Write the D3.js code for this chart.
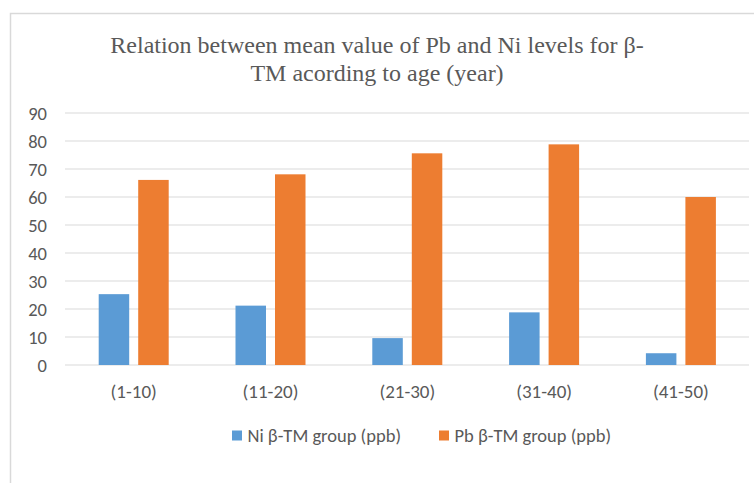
<!DOCTYPE html>
<html><head><meta charset="utf-8">
<script src="https://cdn.jsdelivr.net/npm/d3@7"></script>
<style>body{margin:0;background:#fff;}svg{display:block;}</style>
</head><body>
<script>
const categories = ["(1-10)", "(11-20)", "(21-30)", "(31-40)", "(41-50)"];
const seriesNames = ["Ni β-TM group (ppb)", "Pb β-TM group (ppb)"];
const niValues = [25.3, 21.2, 9.6, 18.8, 4.2];
const pbValues = [66.1, 68.1, 75.6, 78.8, 60.0];
const yTicks = [0, 10, 20, 30, 40, 50, 60, 70, 80, 90];
const colors = ["#5b9bd5", "#ed7d31"];
const titleLines = ["Relation between mean value of Pb and Ni levels for β-", "TM acording to age (year)"];

const W = 754, H = 483;
const svg = d3.select("body").append("svg").attr("width", W).attr("height", H);
svg.append("rect").attr("width", W).attr("height", H).attr("fill", "#fff");
// frame
svg.append("path").attr("d", `M10.5,${H} V13.5 H${W}`).attr("fill", "none").attr("stroke", "#d9d9d9").attr("stroke-width", 1.5);

const font = "Calibri, Carlito, Lato, sans-serif";
svg.append("g").selectAll("text").data(titleLines).join("text")
  .attr("x", 377).attr("y", (d, i) => 52.5 + i * 28.7)
  .attr("text-anchor", "middle").attr("font-family", "'Liberation Serif', 'Times New Roman', serif")
  .attr("font-size", 24).attr("fill", "#595959").text(d => d);

const y = d3.scaleLinear().domain([0, 90]).range([365, 113]);
const x0 = d3.scaleBand().domain(categories).range([65.3, 749.3]).paddingInner(0).paddingOuter(0);
const x1 = d3.scaleBand().domain([0, 1]).range([x0.bandwidth() / 2 - 35, x0.bandwidth() / 2 + 35]).paddingInner(0.228).paddingOuter(0);

// gridlines
svg.append("g").selectAll("line").data(yTicks).join("line")
  .attr("x1", 65).attr("x2", 749).attr("y1", d => y(d)).attr("y2", d => y(d))
  .attr("stroke", "#d9d9d9").attr("stroke-width", 1.2);

// y axis labels
const yAxis = d3.axisLeft(y).tickValues(yTicks).tickSize(0).tickPadding(0);
const gy = svg.append("g").attr("transform", "translate(47,0)").call(yAxis);
gy.select(".domain").remove();
gy.selectAll("text").attr("font-family", font).attr("font-size", 18.5).attr("fill", "#595959").attr("dy", "0.35em");

// bars
const data = categories.map((c, i) => ({ c, vals: [niValues[i], pbValues[i]] }));
const groups = svg.append("g").selectAll("g").data(data).join("g")
  .attr("transform", d => `translate(${x0(d.c)},0)`);
groups.selectAll("rect").data(d => d.vals.map((v, k) => ({ v, k }))).join("rect")
  .attr("x", d => x1(d.k)).attr("width", x1.bandwidth())
  .attr("y", d => y(d.v)).attr("height", d => y(0) - y(d.v))
  .attr("fill", d => colors[d.k]);

// x axis labels
const xAxis = d3.axisBottom(x0).tickSize(0).tickPadding(0);
const gx = svg.append("g").attr("transform", "translate(0,391)").call(xAxis);
gx.select(".domain").remove();
gx.selectAll("text").attr("font-family", font).attr("font-size", 19).attr("fill", "#595959").attr("dy", "0.35em");

// legend
const legX = [232, 439];
const leg = svg.append("g").selectAll("g").data(seriesNames).join("g")
  .attr("transform", (d, i) => `translate(${legX[i]},430.5)`);
leg.append("rect").attr("width", 10).attr("height", 10).attr("fill", (d, i) => colors[i]);
leg.append("text").attr("x", 15.5).attr("y", 5.5).attr("dy", "0.35em")
  .attr("font-family", font).attr("font-size", 18.5).attr("fill", "#595959").text(d => d);
</script>
</body></html>
